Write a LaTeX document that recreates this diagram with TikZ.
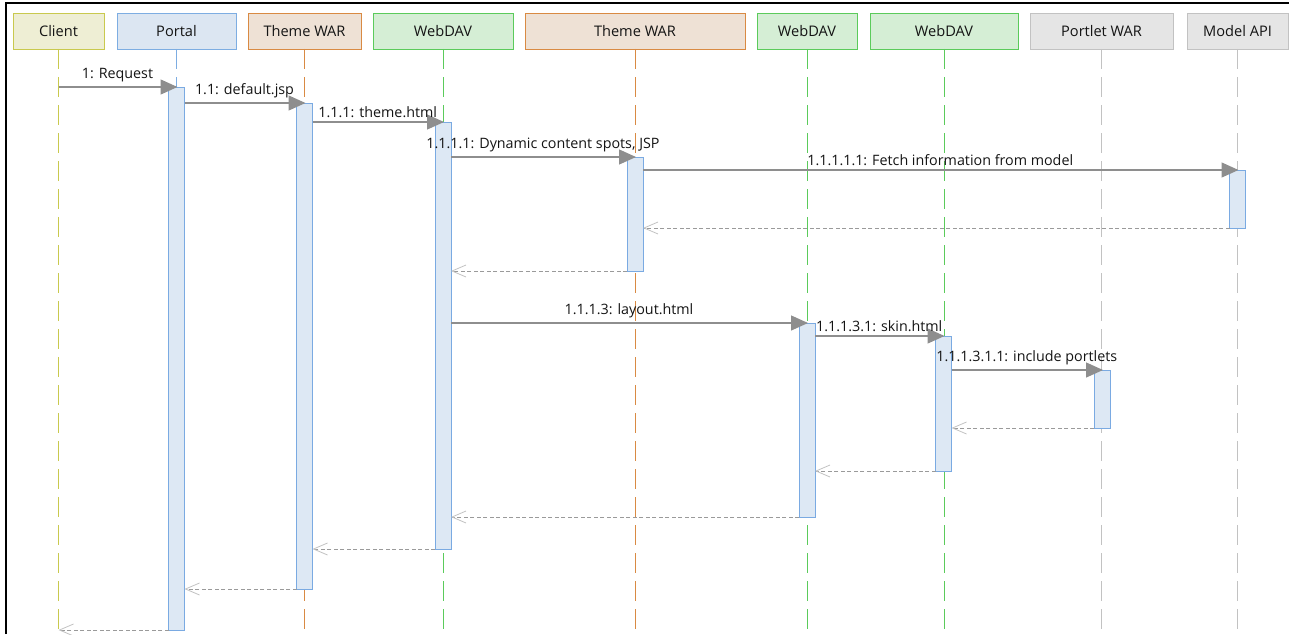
\documentclass[tikz,border=0pt]{standalone}
\usepackage{fontspec}
\setmainfont{Open Sans}
\usetikzlibrary{arrows.meta}
\definecolor{clfill}{HTML}{EEEED4}\definecolor{cldraw}{HTML}{C9C94E}
\definecolor{pofill}{HTML}{DCE6F2}\definecolor{podraw}{HTML}{7DADE2}
\definecolor{twfill}{HTML}{EEE1D5}\definecolor{twdraw}{HTML}{D98A43}
\definecolor{wdfill}{HTML}{D5EED5}\definecolor{wddraw}{HTML}{5BCB5B}
\definecolor{gyfill}{HTML}{E5E5E5}\definecolor{gydraw}{HTML}{C2C2C2}
\definecolor{actfill}{HTML}{DDE8F4}\definecolor{actdraw}{HTML}{7AAAE2}
\definecolor{msgcol}{HTML}{8E8E8E}\definecolor{retcol}{HTML}{9A9A9A}
\definecolor{txt}{HTML}{141414}
\tikzset{
  hdr/.style={rectangle, draw=#1draw, fill=#1fill, line width=0.9pt, inner sep=0pt, outer sep=0pt,
    minimum height=36pt, text=txt, font=\fontsize{14.6}{16}\selectfont},
  life/.style={draw=#1draw, line width=1pt, dash pattern=on 20pt off 8pt},
  act/.style={rectangle, draw=actdraw, fill=actfill, line width=0.9pt, minimum width=16pt, inner sep=0pt, outer sep=0pt, anchor=north},
  msg/.style={draw=msgcol, line width=1.3pt, shorten >=-1pt, -{Triangle[length=17pt,width=15pt,fill=msgcol,color=msgcol]}},
  ret/.style={draw=retcol, line width=0.9pt, dash pattern=on 4pt off 2.5pt, -{Straight Barb[length=14pt,width=12pt,color=gydraw,line width=0.8pt]}},
  lbl/.style={text=txt, font=\fontsize{14.3}{16}\selectfont, inner sep=0pt}
}
\begin{document}
\begin{tikzpicture}[x=1pt,y=-1pt]
\useasboundingbox (0,0) rectangle (1289,634);
\draw[black, line width=1.6pt] (6,634) -- (6,3) -- (1289,3);
% headers
\node[hdr=cl, minimum width=91pt]  (cl)  at (58.5,31) {Client};
\node[hdr=po, minimum width=119pt] (po)  at (176.5,31) {Portal};
\node[hdr=tw, minimum width=113pt] (tw)  at (304.5,31) {Theme WAR};
\node[hdr=wd, minimum width=140pt] (wd)  at (443,31) {WebDAV};
\node[hdr=tw, minimum width=220pt] (twb) at (635,31) {Theme WAR};
\node[hdr=wd, minimum width=100pt] (wdb) at (807,31) {WebDAV};
\node[hdr=wd, minimum width=148pt] (wdc) at (944,31) {WebDAV};
\node[hdr=gy, minimum width=143pt] (pw)  at (1101.5,31) {Portlet WAR};
\node[hdr=gy, minimum width=101pt] (ma)  at (1237.5,31) {Model API};
% lifelines
\coordinate (bot) at (0,636);
\draw[life=cl] (cl.south) -- (cl |- bot);
\draw[life=po] (po.south) -- (po |- bot);
\draw[life=tw] (tw.south) -- (tw |- bot);
\draw[life=wd] (wd.south) -- (wd |- bot);
\draw[life=tw] (twb.south) -- (twb |- bot);
\draw[life=wd] (wdb.south) -- (wdb |- bot);
\draw[life=wd] (wdc.south) -- (wdc |- bot);
\draw[life=gy] (pw.south) -- (pw |- bot);
\draw[life=gy] (ma.south) -- (ma |- bot);
% activations
\node[act, minimum height=543pt] (apo)  at (176.5,87) {};
\node[act, minimum height=486pt] (atw)  at (304.5,103) {};
\node[act, minimum height=427pt] (awd)  at (443,122) {};
\node[act, minimum height=114pt] (atwb) at (635,157) {};
\node[act, minimum height=58pt]  (ama)  at (1237.5,170) {};
\node[act, minimum height=194pt] (awdb) at (807,323) {};
\node[act, minimum height=135pt] (awdc) at (943.5,336) {};
\node[act, minimum height=58pt]  (apw)  at (1102,370) {};
% messages
\draw[msg] (cl |- apo.north) -- node[lbl, above=4pt] {1: Request} (apo.north);
\draw[msg] (apo.east |- atw.north) -- node[lbl, above=4pt] {1.1: default.jsp} (atw.north);
\draw[msg] (atw.east |- awd.north) -- node[lbl, above=4pt] {1.1.1: theme.html} (awd.north);
\draw[msg] (awd.east |- atwb.north) -- node[lbl, above=4pt] {1.1.1.1: Dynamic content spots, JSP} (atwb.north);
\draw[msg] (atwb.east |- ama.north) -- node[lbl, above=4pt] {1.1.1.1.1: Fetch information from model} (ama.north);
\draw[ret] (ama.south west) -- (atwb.east |- ama.south west);
\draw[ret] (atwb.south west) -- (awd.east |- atwb.south west);
\draw[msg] (awd.east |- awdb.north) -- node[lbl, above=4pt] {1.1.1.3: layout.html} (awdb.north);
\draw[msg] (awdb.east |- awdc.north) -- node[lbl, above=4pt] {1.1.1.3.1: skin.html} (awdc.north);
\draw[msg] (awdc.east |- apw.north) -- node[lbl, above=4pt] {1.1.1.3.1.1: include portlets} (apw.north);
\draw[ret] (apw.south west) -- (awdc.east |- apw.south west);
\draw[ret] (awdc.south west) -- (awdb.east |- awdc.south west);
\draw[ret] (awdb.south west) -- (awd.east |- awdb.south west);
\draw[ret] (awd.south west) -- (atw.east |- awd.south west);
\draw[ret] (atw.south west) -- (apo.east |- atw.south west);
\draw[ret] (apo.south west) -- (cl |- apo.south west);
\end{tikzpicture}
\end{document}
